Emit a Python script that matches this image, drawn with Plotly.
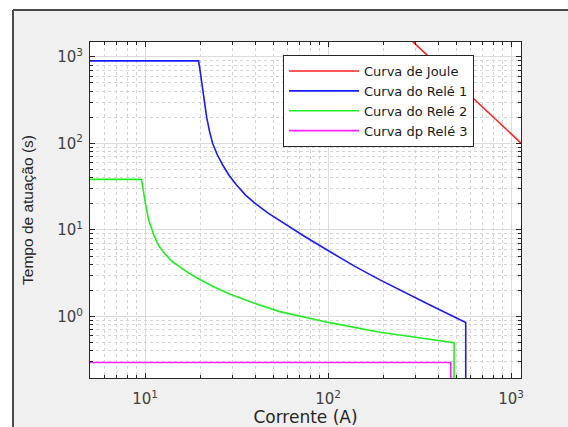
import plotly.graph_objects as go

# ---- data ----
joule_current = [290, 1150]
joule_time = [1500, 98]

rele1_current = [5, 19.6, 19.95, 20.4, 21.0, 21.7, 22.5, 23.4, 24.8, 26.6, 28.8, 31.6, 35.5, 39.8,
                 46.8, 55.0, 64.6, 74.5, 102, 140, 192, 263, 360, 565, 565]
rele1_time = [900, 900, 708, 501, 316, 200, 138, 100, 74, 56, 42.7, 33.1, 25.1, 20.4,
              15.8, 12.7, 10.2, 8.41, 5.64, 3.80, 2.65, 1.89, 1.36, 0.853, 0.1]

rele2_current = [5, 9.55, 9.7, 9.86, 10.04, 10.46, 10.84, 11.25, 11.9, 12.76, 13.96, 15.4, 17.4,
                 19.8, 23.4, 28.5, 37.2, 54.4, 102, 192, 280, 360, 488, 488]
rele2_time = [38.4, 38.4, 31.6, 25.1, 20.3, 13.0, 10.2, 8.37, 6.53, 5.39, 4.38, 3.77, 3.16,
              2.70, 2.24, 1.85, 1.49, 1.14, 0.85, 0.66, 0.586, 0.547, 0.50, 0.1]

rele3_current = [5, 468, 468]
rele3_time = [0.295, 0.295, 0.1]

series_names = ["Curva de Joule", "Curva do Relé 1", "Curva do Relé 2", "Curva dp Relé 3"]
series_colors = ["#ff2020", "#1a1aff", "#22ee22", "#ff22ff"]

x_major = [10, 100, 1000]
x_major_text = ["10<sup>1</sup>", "10<sup>2</sup>", "10<sup>3</sup>"]
y_major = [1, 10, 100, 1000]
y_major_text = ["10<sup>0</sup>", "10<sup>1</sup>", "10<sup>2</sup>", "10<sup>3</sup>"]
x_minor = [m * 10 ** k for k in (0, 1, 2) for m in range(2, 10)]
y_minor = [m * 10 ** k for k in (-1, 0, 1, 2, 3) for m in range(2, 10)]

# ---- layout geometry ----
W, H = 568, 427
ML, MR, MT, MB = 90, 47, 42, 49
PW, PH = W - ML - MR, H - MT - MB


def px_x(p):
    return (p - ML) / PW


def px_y(p):
    return (H - MB - p) / PH


fig = go.Figure()
for cx, ty, name, col in zip(
    [joule_current, rele1_current, rele2_current, rele3_current],
    [joule_time, rele1_time, rele2_time, rele3_time],
    series_names, series_colors):
    fig.add_trace(go.Scatter(x=cx, y=ty, mode="lines", name=name,
                             line=dict(color=col, width=1.6)))

font_main = "DejaVu Sans, Arial, sans-serif"
font_title = "Liberation Sans, Arial, sans-serif"
text_col = "#262626"

axis_common = dict(
    type="log", automargin=False,
    showline=True, linecolor="#262626", linewidth=1, mirror="allticks",
    ticks="inside", ticklen=5, tickcolor="#262626", tickwidth=1,
    showgrid=True, gridcolor="#dcdcdc", gridwidth=1,
    zeroline=False,
    tickfont=dict(family=font_main, size=15, color="#404040"),
)

fig.update_xaxes(
    **axis_common,
    range=[0.699, 3.054],
    tickmode="array", tickvals=x_major, ticktext=x_major_text,
    ticklabelstandoff=7,
    minor=dict(tickmode="array", tickvals=x_minor, ticks="inside", ticklen=3,
               tickcolor="#262626", showgrid=True, gridcolor="#d4d4d4", griddash="dot"),
    title=dict(text="Corrente (A)", font=dict(family=font_main, size=17, color=text_col), standoff=4),
)
fig.update_yaxes(
    **axis_common,
    range=[-0.71, 3.172],
    tickmode="array", tickvals=y_major, ticktext=y_major_text,
    ticklabelstandoff=3,
    minor=dict(tickmode="array", tickvals=y_minor, ticks="inside", ticklen=3,
               tickcolor="#262626", showgrid=True, gridcolor="#d4d4d4", griddash="dot"),
    title=dict(text="Tempo de atuação (s)", font=dict(family=font_title, size=15.5, color=text_col), standoff=19),
)

shapes = [
    # white strips outside the gray frame
    dict(type="rect", xref="paper", yref="paper", x0=px_x(-5), x1=px_x(W + 5), y0=px_y(10), y1=px_y(-5),
         fillcolor="white", line=dict(width=0), layer="below"),
    dict(type="rect", xref="paper", yref="paper", x0=px_x(-5), x1=px_x(13), y0=px_y(H + 5), y1=px_y(-5),
         fillcolor="white", line=dict(width=0), layer="below"),
    # frame border
    dict(type="line", xref="paper", yref="paper", x0=px_x(13), x1=px_x(W + 5), y0=px_y(10), y1=px_y(10),
         line=dict(color="#4a4a4a", width=2), layer="below"),
    dict(type="line", xref="paper", yref="paper", x0=px_x(13), x1=px_x(13), y0=px_y(10), y1=px_y(H + 5),
         line=dict(color="#4a4a4a", width=2), layer="below"),
]

fig.update_layout(
    width=W, height=H,
    margin=dict(l=ML, r=MR, t=MT, b=MB, pad=0, autoexpand=False),
    paper_bgcolor="#f0f0f0",
    plot_bgcolor="white",
    shapes=shapes,
    font=dict(family=font_main, color=text_col),
    legend=dict(
        x=px_x(283), y=px_y(55), xanchor="left", yanchor="top",
        bgcolor="white", bordercolor="#262626", borderwidth=1,
        font=dict(family=font_main, size=13, color="#1a1a1a"),
        itemwidth=70, tracegroupgap=0,
    ),
    showlegend=True,
)

fig.write_html("out.html")
